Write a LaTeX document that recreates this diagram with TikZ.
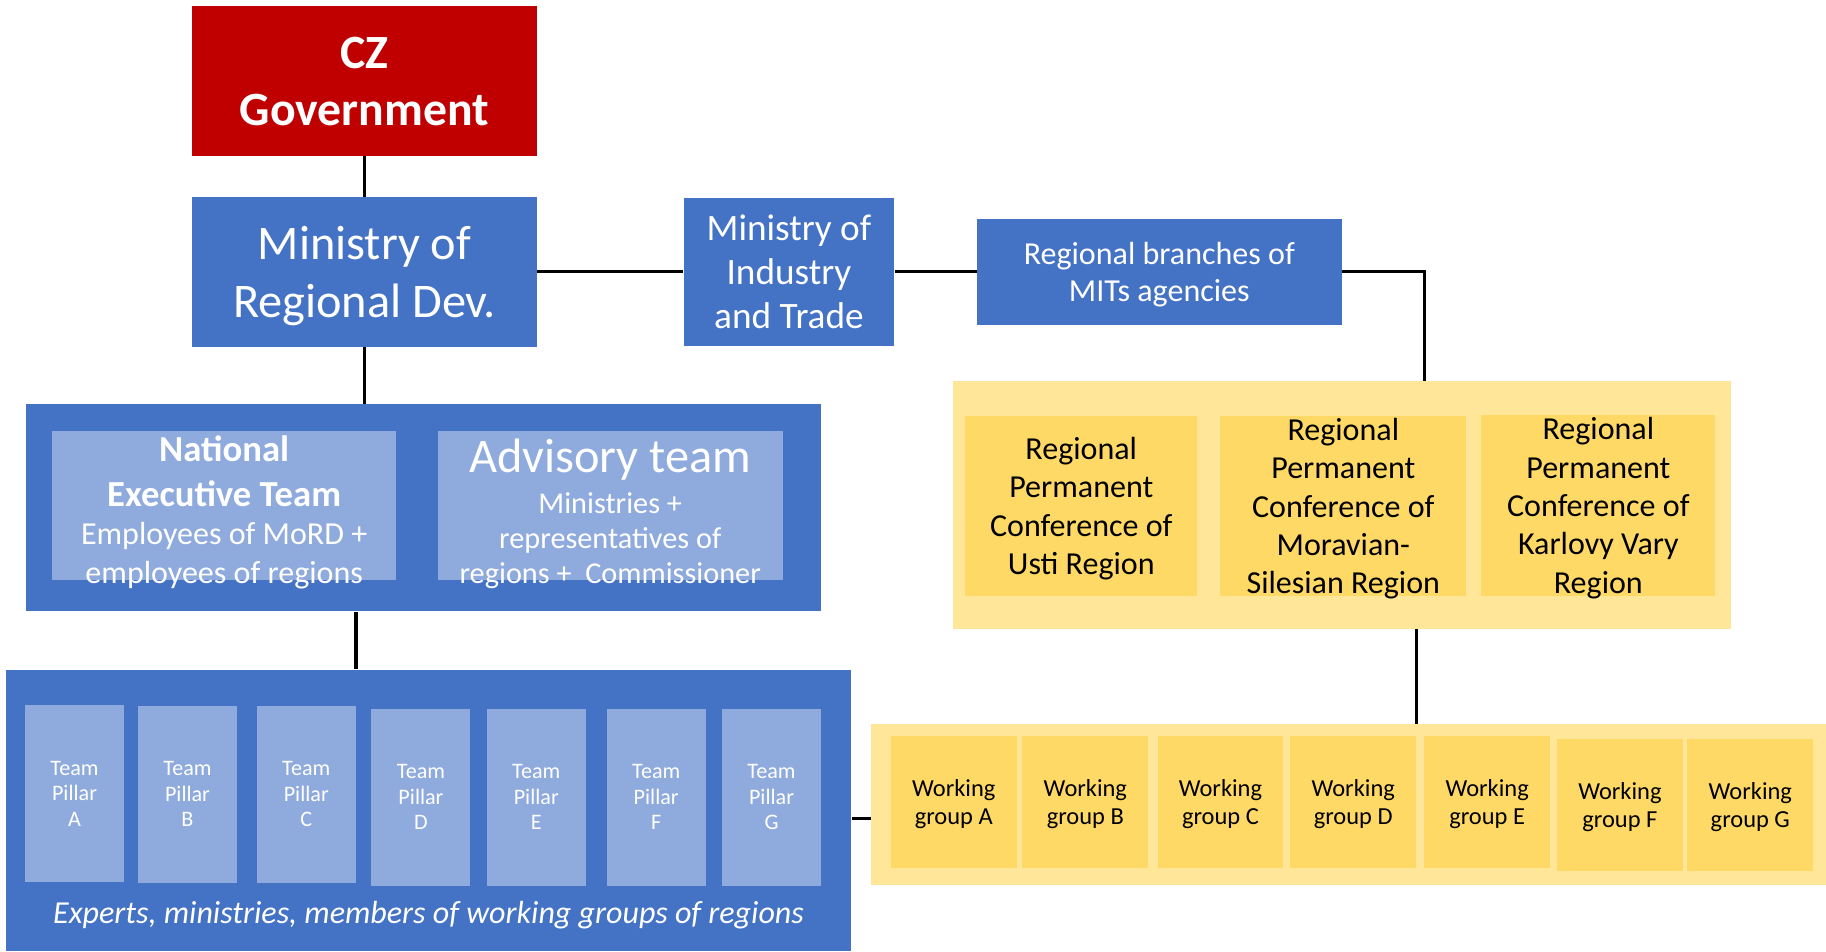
\documentclass[tikz,border=0pt]{standalone}
\usepackage{fontspec}
\setmainfont{Carlito}
\usepackage{tikz}
\usetikzlibrary{positioning}
\definecolor{gov-red}{HTML}{C00000}
\definecolor{block}{HTML}{4472C4}
\definecolor{team}{HTML}{8FAADC}
\definecolor{region-back}{HTML}{FFE699}
\definecolor{region}{HTML}{FFD966}
\tikzset{
    box/.style = {inner sep=0pt, align=flush center},
    text-box/.style = {box, text depth=0pt},
    blue-box/.style = {text-box, fill=block, text=white},
    team-box/.style = {text-box, fill=team, text=white},
    back-box/.style = {box, fill=region-back},
    region-box/.style = {text-box, fill=region, text=black},
    pillar/.style = {team-box, minimum width=85pt, minimum height=152pt, font=\fontsize{19}{22}\selectfont},
    group/.style = {region-box, minimum width=108pt, minimum height=113pt, font=\fontsize{21}{24}\selectfont},
    conf/.style = {region-box, minimum height=155pt, font=\fontsize{27.5}{33}\selectfont},
    link/.style = {line width=2.6pt, black}
}

\begin{document}
\begin{tikzpicture}[x=1pt, y=-1pt]
\useasboundingbox (0,0) rectangle (1568,817);

%government
\node[text-box, fill=gov-red, text=white, minimum width=296pt, minimum height=129pt, font=\bfseries\fontsize{41}{49}\selectfont] (gov) at (313,69.5) {CZ\\Government};

%ministries
\node[blue-box, minimum width=296pt, minimum height=129pt, font=\fontsize{41.5}{50}\selectfont] (mord) at (313,233.5) {Ministry of\\Regional Dev.};
\node[blue-box, minimum width=181pt, minimum height=127pt, font=\fontsize{32}{38}\selectfont] (mit) at (677.5,233.5) {Ministry of\\Industry\\and Trade};
\node[blue-box, minimum width=313pt, minimum height=91pt, font=\fontsize{27.5}{32}\selectfont] (branches) at (995.5,233.5) {Regional branches of\\MITs agencies};

%national teams
\node[blue-box, minimum width=683pt, minimum height=178pt] (natbox) at (363.5,436) {};
\node[team-box, minimum width=295pt, minimum height=128pt] (exec) at (192.5,434) {};
\node[box, text=white, text width=320pt, font=\fontsize{27.5}{33}\selectfont] (exec-text) at (192.5,440)
    {{\bfseries\fontsize{31.5}{38}\selectfont National\\Executive Team\par}Employees of MoRD +\\employees of regions};
\node[team-box, minimum width=296pt, minimum height=128pt] (advisory) at (524,434) {};
\node[box, text=white, text width=320pt, font=\fontsize{26}{30}\selectfont] (advisory-text) at (524,441)
    {{\fontsize{41.5}{48}\selectfont Advisory team\par}\vspace{5pt}Ministries +\\representatives of\\regions +\ \ Commissioner};

%pillars
\node[blue-box, minimum width=726pt, minimum height=242pt] (pillarbox) at (368,696) {};
\node[pillar] (pillarA) at (64,681.5) {Team\\Pillar\\A};
\node[pillar] (pillarB) at (161,682) {Team\\Pillar\\B};
\node[pillar] (pillarC) at (263,682) {Team\\Pillar\\C};
\node[pillar] (pillarD) at (361.5,684.5) {Team\\Pillar\\D};
\node[pillar] (pillarE) at (460.5,684.5) {Team\\Pillar\\E};
\node[pillar] (pillarF) at (563.5,684.5) {Team\\Pillar\\F};
\node[pillar] (pillarG) at (662.5,684.5) {Team\\Pillar\\G};
\node[box, text=white, font=\itshape\fontsize{27.5}{30}\selectfont] (experts) at (368,786) {Experts, ministries, members of working groups of regions};

%regional conferences
\node[back-box, minimum width=668pt, minimum height=213pt] (regbox) at (1152,433.5) {};
\node[conf, minimum width=199pt] (usti) at (928.5,434.5) {Regional\\Permanent\\Conference of\\Usti Region};
\node[conf, minimum width=211pt] (moravia) at (1153.5,434.5) {Regional\\Permanent\\Conference of\\Moravian-\\Silesian Region};
\node[conf, minimum width=201pt] (karlovy) at (1372.5,434) {Regional\\Permanent\\Conference of\\Karlovy Vary\\Region};

%working groups
\node[back-box, minimum width=820pt, minimum height=138pt] (wgbox) at (1158,691) {};
\node[group] (wgA) at (819,688.5) {Working\\group A};
\node[group] (wgB) at (932,688.5) {Working\\group B};
\node[group] (wgC) at (1048,688.5) {Working\\group C};
\node[group] (wgD) at (1162,688.5) {Working\\group D};
\node[group] (wgE) at (1277,688.5) {Working\\group E};
\node[group] (wgF) at (1391,691.5) {Working\\group F};
\node[group] (wgG) at (1503,691.5) {Working\\group G};

%links
\draw[link] (gov) -- (mord);
\draw[link] (mord.south) -- (mord.south |- natbox.north);
\draw[link] (mord) -- (mit);
\draw[link] (mit) -- (branches);
\draw[link] (branches.east) -| ([xshift=71pt]regbox.north);
\draw[link] (natbox.south -| pillarC.east) -- (pillarbox.north -| pillarC.east);
\draw[link] (regbox.south -| wgD.east) -- (wgbox.north -| wgD.east);
\draw[link] ([yshift=-7pt]pillarbox.east) -- ([yshift=-7pt]pillarbox.east -| wgbox.west);
\end{tikzpicture}
\end{document}
